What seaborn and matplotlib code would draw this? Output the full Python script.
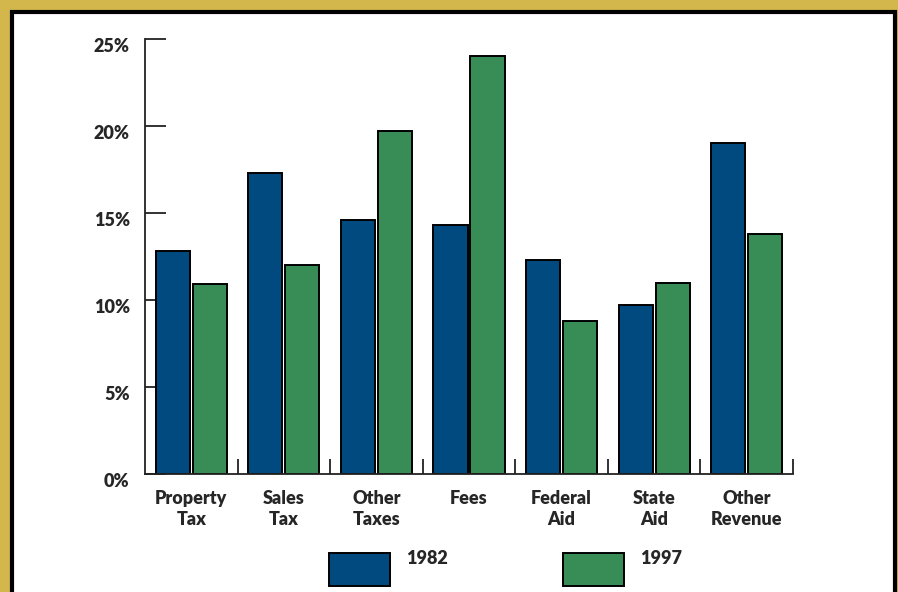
import matplotlib
matplotlib.use("Agg")
import matplotlib.pyplot as plt
import matplotlib.transforms as mtransforms
from matplotlib.patches import Rectangle
import seaborn as sns
import pandas as pd

categories = ["Property\nTax", "Sales\nTax", "Other\nTaxes", "Fees",
              "Federal\nAid", "State\nAid", "Other\nRevenue"]
values_1982 = [12.8, 17.3, 14.6, 14.3, 12.3, 9.7, 19.0]
values_1997 = [10.9, 12.0, 19.7, 24.0, 8.8, 11.0, 13.8]
years = ["1982", "1997"]
yticks = [0, 5, 10, 15, 20, 25]
ytick_labels = ["0%", "5%", "10%", "15%", "20%", "25%"]

colors = {"1982": "#004a80", "1997": "#378d55"}

df = pd.DataFrame({
    "category": categories * 2,
    "year": [years[0]] * len(categories) + [years[1]] * len(categories),
    "value": values_1982 + values_1997,
})

sns.set_style("white")
plt.rcParams["font.family"] = ["Lato", "DejaVu Sans"]
FW = "heavy"
plt.rcParams["font.weight"] = FW
FS = 13

W, H = 898, 592
fig = plt.figure(figsize=(W / 100, H / 100), dpi=100)
fig.patch.set_facecolor("#d3b74c")

# white panel with black border (background axes)
bg = fig.add_axes([0, 0, 1, 1], zorder=-10)
bg.set_xlim(0, W)
bg.set_ylim(H, 0)
bg.axis("off")
bg.add_patch(Rectangle((12, 12), 895 - 12, 620, facecolor="white",
                       edgecolor="black", linewidth=3))

ax = fig.add_axes([145 / W, 1 - 474 / H, (793 - 145) / W, (474 - 39) / H])
ax.set_facecolor("none")

sns.barplot(data=df, x="category", y="value", hue="year", order=categories,
            hue_order=years, palette=colors, width=0.8, gap=0.08,
            edgecolor="black", linewidth=1.4, saturation=1, ax=ax,
            legend=False)

ax.set_xlim(-0.5, len(categories) - 0.5)
ax.set_ylim(0, 25)
ax.set_xlabel("")
ax.set_ylabel("")

for side in ["top", "right"]:
    ax.spines[side].set_visible(False)
for side in ["left", "bottom"]:
    ax.spines[side].set_linewidth(1.3)
    ax.spines[side].set_color("#222222")

ax.set_yticks(yticks)
ax.set_yticklabels(ytick_labels, fontsize=FS, fontweight=FW)
ax.tick_params(axis="y", left=True, direction="in", length=15, width=1.3,
               color="#222222", pad=11)
offset = mtransforms.ScaledTranslation(0, -6 / 100, fig.dpi_scale_trans)
for lbl in ax.get_yticklabels():
    lbl.set_transform(lbl.get_transform() + offset)

# x ticks at group boundaries
ax.set_xticks([i + 0.5 for i in range(len(categories))])
ax.set_xticklabels([])
ax.tick_params(axis="x", bottom=True, direction="in", length=11, width=1.3,
               color="#222222")

# category labels
for i, c in enumerate(categories):
    ax.text(i, -0.037, c, transform=ax.get_xaxis_transform(), ha="center",
            va="top", fontsize=FS, fontweight=FW, linespacing=1.3)

# legend (figure-pixel coordinates via background axes)
for yr, x0 in zip(years, [329, 563]):
    bg.add_patch(Rectangle((x0, 553), 61, 33, facecolor=colors[yr],
                           edgecolor="black", linewidth=1.4))
    bg.text(x0 + 77, 559, yr, fontsize=FS, fontweight=FW,
            ha="left", va="center")

fig.savefig("out.png", dpi=100, facecolor=fig.get_facecolor())
